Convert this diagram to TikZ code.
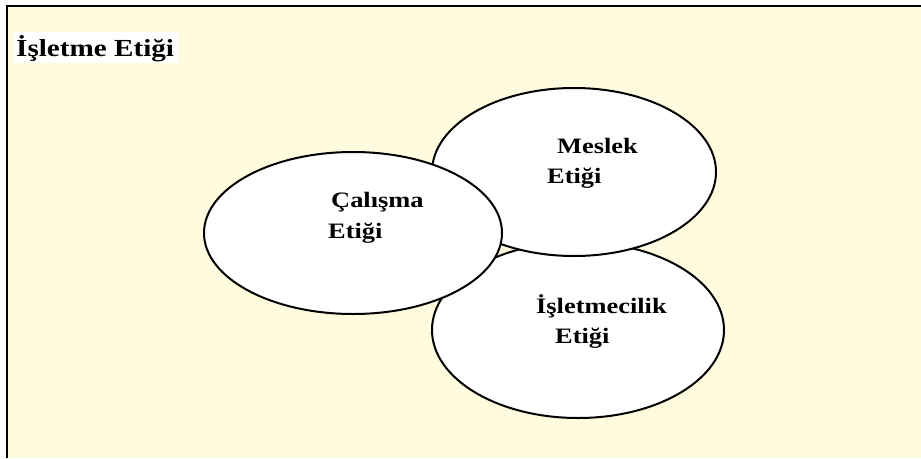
\documentclass[tikz,border=0pt]{standalone}
\usepackage{fontspec}
\setmainfont{Liberation Serif}
\usetikzlibrary{shapes.geometric}
\definecolor{paper}{RGB}{255,251,222}
\tikzset{
  bubble/.style={ellipse, draw=black, line width=2pt, fill=white, inner sep=0pt},
  lbl/.style={anchor=base west, inner sep=0pt, font=\fontsize{22}{26}\selectfont\bfseries},
}
\newcommand{\wide}[1]{\scalebox{1.2}[1]{#1}}
\begin{document}
\begin{tikzpicture}[x=1pt,y=-1pt]
\useasboundingbox (0,0) rectangle (921,458);
\fill[paper] (7,6) rectangle (921,458);
\draw[line width=2pt] (7,458) -- (7,6) -- (921,6);
% title
\fill[white] (13,32) rectangle (178,63);
\node[lbl, font=\fontsize{24.5}{29}\selectfont\bfseries] (title) at (16,56) {\scalebox{1.19}[1]{İşletme Etiği}};
% ellipses
\node[bubble, minimum width=292pt, minimum height=176pt] (isl) at (578,330) {};
\node[bubble, minimum width=284pt, minimum height=168pt] (mes) at (574,172) {};
\node[bubble, minimum width=298pt, minimum height=162pt] (cal) at (353,233) {};
% labels
\node[lbl] (mes1) at (557,153) {\wide{Meslek}};
\node[lbl] (mes2) at (547,183) {\wide{Etiği}};
\node[lbl] (cal1) at (331,207) {\wide{Çalışma}};
\node[lbl] (cal2) at (328,238) {\wide{Etiği}};
\node[lbl] (isl1) at (536,313) {\wide{İşletmecilik}};
\node[lbl] (isl2) at (555,343) {\wide{Etiği}};
\end{tikzpicture}
\end{document}
